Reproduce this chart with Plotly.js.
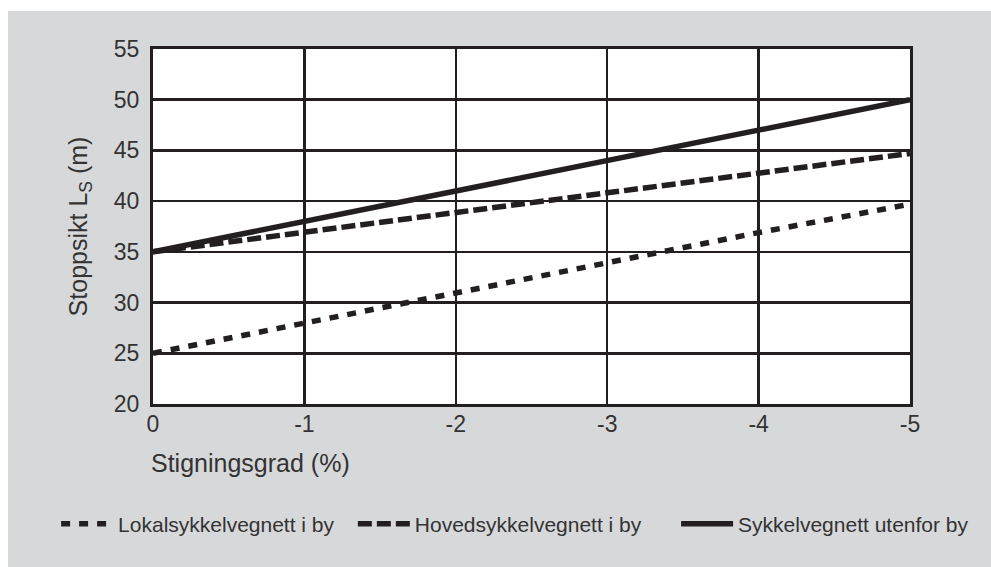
<!DOCTYPE html>
<html>
<head>
<meta charset="utf-8">
<script src="https://cdn.plot.ly/plotly-3.0.1.min.js"></script>
<style>
html, body { margin: 0; padding: 0; background: #ffffff; }
#chart { position: absolute; left: 8px; top: 11px; width: 983px; height: 556px; }
</style>
</head>
<body>
<div id="chart"></div>
<script>
const grade = [0, -1, -2, -3, -4, -5];
const lokal = [25, 28, 31, 34, 36.9, 39.7];
const hoved = [35, 36.95, 38.9, 40.8, 42.8, 44.7];
const utenfor = [35, 38, 41, 44, 47, 50];
const seriesNames = ["Lokalsykkelvegnett i by", "Hovedsykkelvegnett i by", "Sykkelvegnett utenfor by"];
const xTickVals = [0, -1, -2, -3, -4, -5];
const xTickText = ["0", "-1", "-2", "-3", "-4", "-5"];
const yTickVals = [20, 25, 30, 35, 40, 45, 50, 55];

const font = "Liberation Sans, Arial, sans-serif";
const ink = "#231f20";
const txt = "#333333";

const traces = [
  { x: grade, y: lokal, name: seriesNames[0], mode: "lines", legend: "legend",
    line: { color: ink, width: 5.5, dash: "9px,9px" } },
  { x: grade, y: hoved, name: seriesNames[1], mode: "lines", legend: "legend2",
    line: { color: ink, width: 5.5, dash: "14px,5px" } },
  { x: grade, y: utenfor, name: seriesNames[2], mode: "lines", legend: "legend3",
    line: { color: ink, width: 5.5 } }
];

function leg(x) {
  return { orientation: "h", x: x, xanchor: "left", y: -0.338, yanchor: "middle",
    bgcolor: "rgba(0,0,0,0)", font: { family: font, size: 21, color: txt },
    itemwidth: 52 };
}

const layout = {
  width: 983, height: 556,
  paper_bgcolor: "#d7d8da",
  plot_bgcolor: "#ffffff",
  margin: { l: 145, r: 81, t: 38, b: 163 },
  font: { family: font, color: txt, size: 24 },
  showlegend: true,
  legend: leg(-0.128),
  legend2: leg(0.264),
  legend3: leg(0.691),
  xaxis: {
    range: [0, -5], tickvals: xTickVals, ticktext: xTickText,
    showgrid: true, gridcolor: ink, gridwidth: 2.5,
    showline: true, mirror: true, linecolor: ink, linewidth: 3,
    zeroline: false, ticks: "", tickfont: { family: font, size: 23, color: txt },
    ticklabelstandoff: -3,
    fixedrange: true
  },
  yaxis: {
    range: [20, 55], tickvals: yTickVals,
    showgrid: true, gridcolor: ink, gridwidth: 2.5,
    showline: true, mirror: true, linecolor: ink, linewidth: 3,
    zeroline: false, ticks: "", tickfont: { family: font, size: 23, color: txt },
    ticklabelstandoff: 6,
    title: { text: "Stoppsikt L<sub>S</sub> (m)", font: { family: font, size: 25, color: txt }, standoff: 20 },
    fixedrange: true
  },
  annotations: [
    { text: "Stigningsgrad (%)", xref: "paper", yref: "paper", x: 0, y: -0.166,
      xanchor: "left", yanchor: "middle", showarrow: false, xshift: -4,
      font: { family: font, size: 25, color: txt } }
  ]
};

Plotly.newPlot("chart", traces, layout, { displayModeBar: false, staticPlot: true });
</script>
</body>
</html>
